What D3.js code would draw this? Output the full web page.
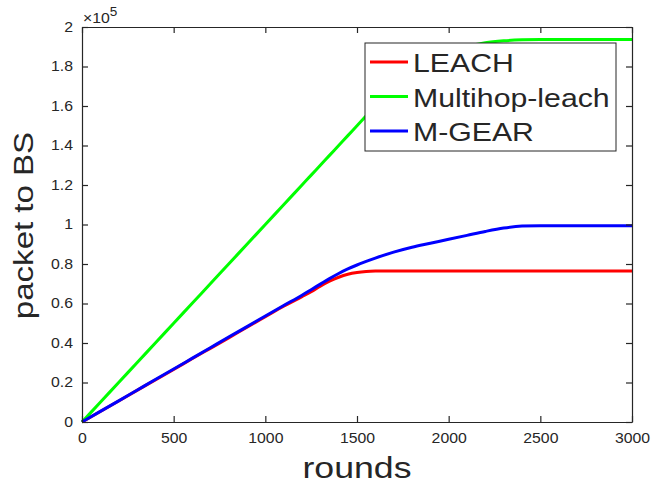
<!DOCTYPE html>
<html lang="en">
<head>
<meta charset="UTF-8">
<title>packet to BS</title>
<script src="https://d3js.org/d3.v7.min.js"></script>
<style>
body { margin: 0; background: #fff; }
svg text { font-family: "Liberation Sans", Arial, sans-serif; fill: #262626; }
.line { fill: none; stroke-width: 3px; stroke-linejoin: round; }
</style>
</head>
<body>
<div id="grafico"></div>
<script>
// rounds (x) and packets to BS (units of 1e5)
var rounds = [0, 100, 200, 300, 400, 500, 600, 700, 800, 900, 1000, 1100, 1200, 1250, 1300, 1350, 1400, 1450, 1500, 1550, 1600, 1700, 1800, 1900, 2000, 2100, 2200, 2300, 2400, 2500, 2600, 2800, 3000];
var leach = [0, 0.053, 0.106, 0.16, 0.213, 0.266, 0.32, 0.373, 0.426, 0.48, 0.533, 0.586, 0.635, 0.66, 0.688, 0.713, 0.733, 0.748, 0.757, 0.762, 0.764, 0.765, 0.765, 0.765, 0.765, 0.765, 0.765, 0.765, 0.765, 0.765, 0.765, 0.765, 0.765];
var multihop = [0, 0.1, 0.2, 0.3, 0.4, 0.5, 0.6, 0.7, 0.8, 0.9, 1.0, 1.1, 1.2, 1.25, 1.3, 1.35, 1.4, 1.45, 1.5, 1.55, 1.6, 1.69, 1.77, 1.83, 1.87, 1.9, 1.92, 1.93, 1.935, 1.937, 1.937, 1.937, 1.937];
var mgear = [0, 0.054, 0.107, 0.161, 0.215, 0.268, 0.322, 0.376, 0.43, 0.483, 0.537, 0.59, 0.642, 0.67, 0.698, 0.726, 0.752, 0.775, 0.795, 0.813, 0.83, 0.86, 0.885, 0.905, 0.925, 0.945, 0.965, 0.982, 0.992, 0.994, 0.994, 0.994, 0.994];
var seriesNames = ["LEACH", "Multihop-leach", "M-GEAR"];
var seriesColors = ["#ff0000", "#00ff00", "#0000ff"];
var xTicks = [0, 500, 1000, 1500, 2000, 2500, 3000];
var yTicks = [0, 0.2, 0.4, 0.6, 0.8, 1, 1.2, 1.4, 1.6, 1.8, 2];

var ancho = 656, altura = 487;
var margen = { izquierdo: 82, derecho: 24, superior: 27, inferior: 65 };
var w = ancho - margen.izquierdo - margen.derecho;
var h = altura - margen.superior - margen.inferior;
var estirar = 1.13; // the reference text looks horizontally stretched

var escalaX = d3.scaleLinear().domain([0, 3000]).range([0, w]);
var escalaY = d3.scaleLinear().domain([0, 2]).range([h, 0]);

var svg = d3.select("#grafico").append("svg")
    .attr("width", ancho).attr("height", altura)
    .append("g")
    .attr("transform", "translate(" + margen.izquierdo + "," + margen.superior + ")");

// lineas
var datos = [leach, multihop, mgear];
var linea = d3.line()
    .x(function(d, i) { return escalaX(rounds[i]); })
    .y(function(d) { return escalaY(d); })
    .curve(d3.curveMonotoneX);

datos.forEach(function(serie, k) {
  svg.append("path").datum(serie)
    .attr("class", "line")
    .attr("stroke", seriesColors[k])
    .attr("d", linea);
});

// ejes (ticks hacia dentro, caja completa)
function estilo(g) {
  g.select(".domain").attr("stroke", "#262626").attr("stroke-width", 1.2);
  g.selectAll(".tick line").attr("stroke", "#262626").attr("stroke-width", 1.2);
  g.selectAll(".tick text").style("font-size", "14px").attr("fill", "#262626")
    .attr("transform", "scale(" + estirar + ",1)");
}
svg.append("g").attr("transform", "translate(0," + h + ")")
  .call(d3.axisBottom(escalaX).tickValues(xTicks).tickSize(-6).tickSizeOuter(0).tickPadding(11)
    .tickFormat(d3.format("d")))
  .call(estilo);
svg.append("g")
  .call(d3.axisLeft(escalaY).tickValues(yTicks).tickSize(-6).tickSizeOuter(0).tickPadding(8)
    .tickFormat(function(d) { return d3.format("~g")(d); }))
  .call(estilo);
svg.append("g")
  .call(d3.axisTop(escalaX).tickValues(xTicks).tickSize(-6).tickSizeOuter(0).tickFormat(""))
  .call(estilo);
svg.append("g").attr("transform", "translate(" + w + ",0)")
  .call(d3.axisRight(escalaY).tickValues(yTicks).tickSize(-6).tickSizeOuter(0).tickFormat(""))
  .call(estilo);

// exponente
var expo = svg.append("text").attr("transform", "translate(1,-4) scale(" + estirar + ",1)")
  .style("font-size", "14px");
expo.append("tspan").text("\u00d710");
expo.append("tspan").attr("dy", -7).style("font-size", "12px").text("5");

// titulos de ejes
svg.append("text")
  .attr("transform", "translate(" + (w / 2) + "," + (h + 56) + ") scale(1.23,1)")
  .attr("text-anchor", "middle").style("font-size", "29px").text("rounds");
svg.append("text")
  .attr("transform", "translate(-49," + (h / 2 + 1) + ") rotate(-90) scale(1.18,1)")
  .attr("text-anchor", "middle").style("font-size", "28px").text("packet to BS");

// leyenda
var ley = svg.append("g").attr("transform", "translate(" + (365 - margen.izquierdo) + "," + (43 - margen.superior) + ")");
ley.append("rect").attr("width", 251).attr("height", 108)
  .attr("fill", "#fff").attr("stroke", "#262626").attr("stroke-width", 1);
seriesNames.forEach(function(nombre, k) {
  var y = 19 + k * 34.5;
  ley.append("line").attr("x1", 5).attr("x2", 43).attr("y1", y).attr("y2", y)
    .attr("stroke", seriesColors[k]).attr("stroke-width", 3);
  ley.append("text").attr("transform", "translate(48," + (y + 10) + ") scale(1.21,1)")
    .style("font-size", "25px").attr("fill", "#000").text(nombre);
});
</script>
</body>
</html>
